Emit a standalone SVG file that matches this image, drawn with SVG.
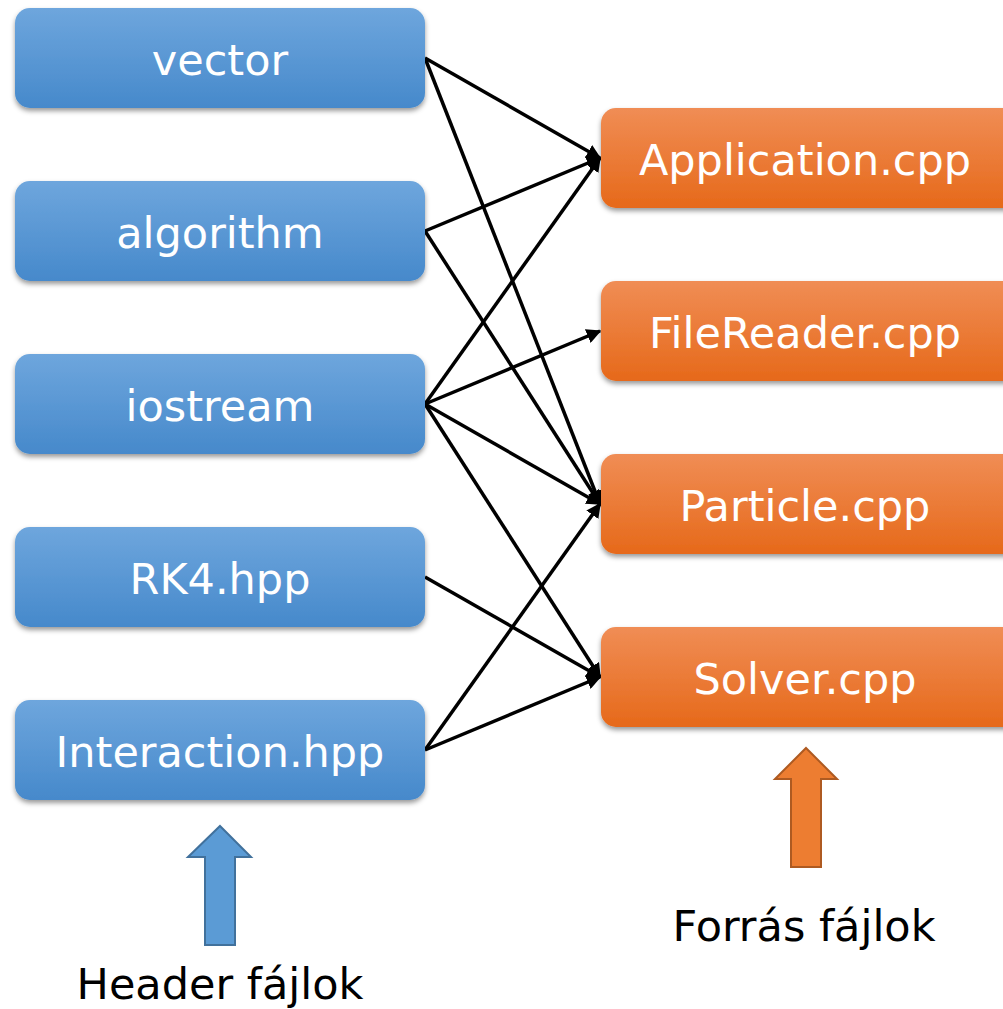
<svg xmlns="http://www.w3.org/2000/svg" width="1003" height="1009" viewBox="0 0 1003 1009">
<defs>
<linearGradient id="gb" x1="0" y1="0" x2="0" y2="1"><stop offset="0" stop-color="#6ea6dd"/><stop offset="1" stop-color="#4689cb"/></linearGradient>
<linearGradient id="go" x1="0" y1="0" x2="0" y2="1"><stop offset="0" stop-color="#f08d55"/><stop offset="1" stop-color="#e6691a"/></linearGradient>
<filter id="sh" x="-10%" y="-20%" width="120%" height="150%"><feDropShadow dx="0" dy="3" stdDeviation="2.5" flood-color="#000" flood-opacity="0.4"/></filter>
<marker id="ah" viewBox="0 0 10 10" refX="9" refY="5" markerWidth="4.2" markerHeight="4.2" orient="auto" markerUnits="strokeWidth"><path d="M0,0 L10,5 L0,10 z" fill="#000"/></marker>
<style>
.nb{fill:url(#gb);filter:url(#sh)}
.no{fill:url(#go);filter:url(#sh)}
.t{font-family:"DejaVu Sans",Verdana,sans-serif;font-size:43px;fill:#fff;text-anchor:middle}
.l{font-family:"DejaVu Sans",Verdana,sans-serif;font-size:43px;fill:#000;text-anchor:middle}
.e{stroke:#000;stroke-width:3.5;fill:none;marker-end:url(#ah)}
</style>
</defs>
<rect width="1003" height="1009" fill="#fff"/>
<g id="connectors">
<line class="e" x1="425" y1="58" x2="600" y2="158"/>
<line class="e" x1="425" y1="58" x2="600" y2="504"/>
<line class="e" x1="425" y1="231" x2="600" y2="158"/>
<line class="e" x1="425" y1="231" x2="600" y2="504"/>
<line class="e" x1="425" y1="404" x2="600" y2="158"/>
<line class="e" x1="425" y1="404" x2="600" y2="331"/>
<line class="e" x1="425" y1="404" x2="600" y2="504"/>
<line class="e" x1="425" y1="404" x2="600" y2="677"/>
<line class="e" x1="425" y1="577" x2="600" y2="677"/>
<line class="e" x1="425" y1="750" x2="600" y2="504"/>
<line class="e" x1="425" y1="750" x2="600" y2="677"/>
</g>
<g id="n-vector"><rect class="nb" x="15" y="8" width="410" height="100" rx="15"/><text class="t" x="220" y="75">vector</text></g>
<g id="n-algorithm"><rect class="nb" x="15" y="181" width="410" height="100" rx="15"/><text class="t" x="220" y="248">algorithm</text></g>
<g id="n-iostream"><rect class="nb" x="15" y="354" width="410" height="100" rx="15"/><text class="t" x="220" y="421">iostream</text></g>
<g id="n-rk4"><rect class="nb" x="15" y="527" width="410" height="100" rx="15"/><text class="t" x="220" y="594">RK4.hpp</text></g>
<g id="n-interaction"><rect class="nb" x="15" y="700" width="410" height="100" rx="15"/><text class="t" x="220" y="767">Interaction.hpp</text></g>
<g id="n-application"><rect class="no" x="601" y="108" width="420" height="100" rx="15"/><text class="t" x="805" y="175">Application.cpp</text></g>
<g id="n-filereader"><rect class="no" x="601" y="281" width="420" height="100" rx="15"/><text class="t" x="805" y="348">FileReader.cpp</text></g>
<g id="n-particle"><rect class="no" x="601" y="454" width="420" height="100" rx="15"/><text class="t" x="805" y="521">Particle.cpp</text></g>
<g id="n-solver"><rect class="no" x="601" y="627" width="420" height="100" rx="15"/><text class="t" x="805" y="694">Solver.cpp</text></g>
<g id="header-arrow"><path d="M220,826 L251,857 L235,857 L235,945 L205,945 L205,857 L188,857 z" fill="#5b9bd5" stroke="#41719c" stroke-width="2"/><text class="l" x="220" y="999">Header fájlok</text></g>
<g id="source-arrow"><path d="M806,748 L837,779 L821,779 L821,867 L791,867 L791,779 L775,779 z" fill="#ed7d31" stroke="#ae5a21" stroke-width="2"/><text class="l" x="804" y="941">Forrás fájlok</text></g>
</svg>
